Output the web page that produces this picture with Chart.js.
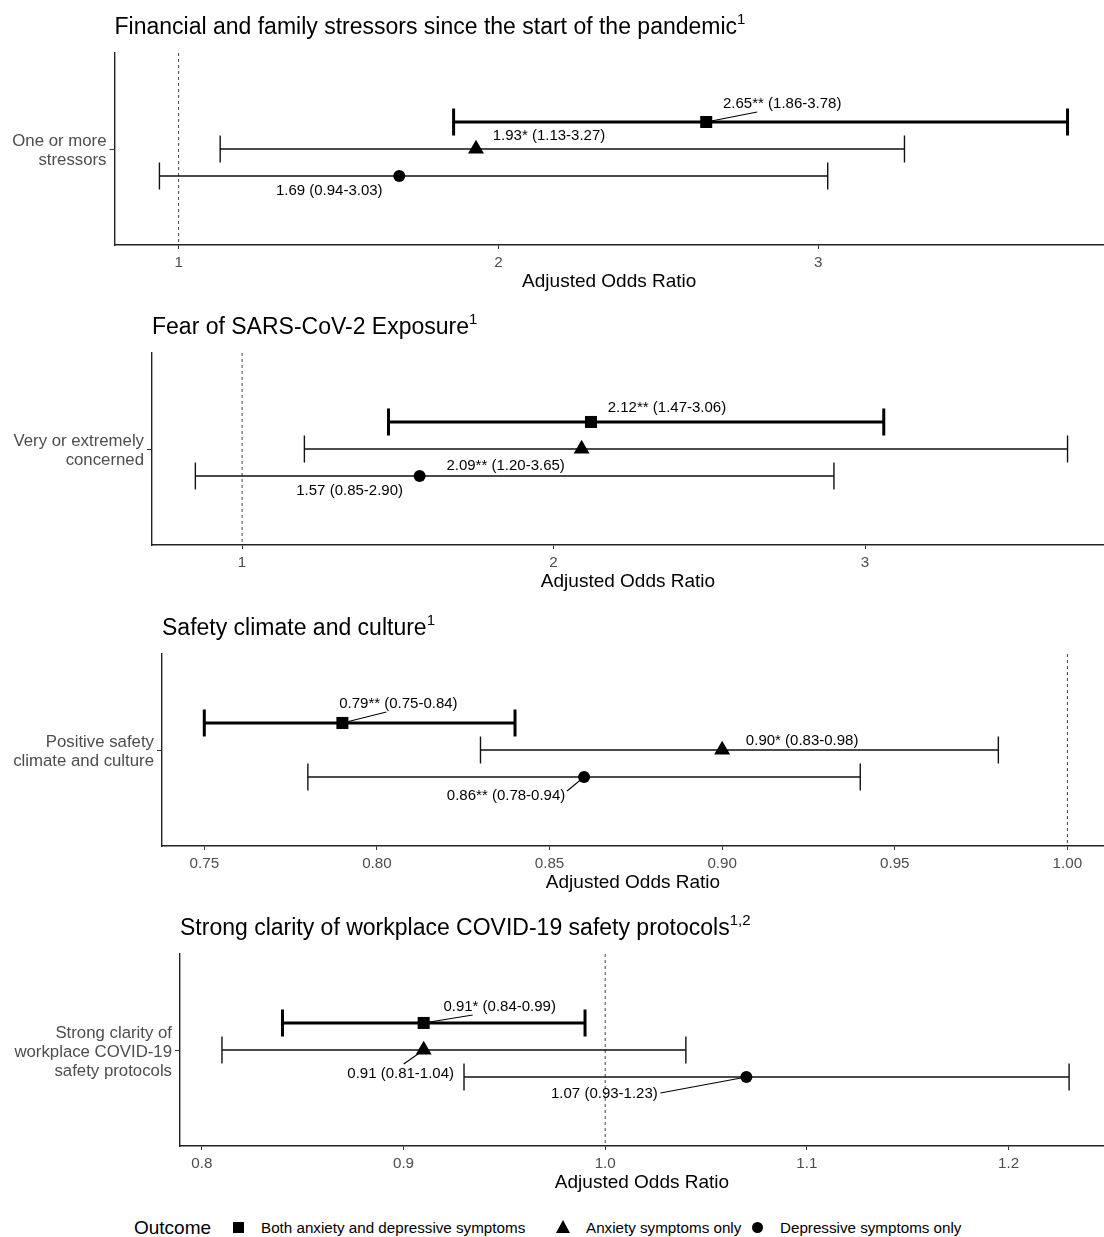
<!DOCTYPE html>
<html><head><meta charset="utf-8">
<script src="https://cdn.jsdelivr.net/npm/chart.js@4.4.1/dist/chart.umd.min.js"></script>
<style>
html,body{margin:0;padding:0;background:#fff;}
body{width:1104px;height:1237px;position:relative;overflow:hidden;font-family:"Liberation Sans",Arial,sans-serif;}
canvas{position:absolute;left:0;z-index:1;}
.txt{position:absolute;white-space:nowrap;z-index:2;color:#000;}
.txt .sup{position:relative;top:-10px;font-size:15px;}
.mk{position:absolute;z-index:2;}
</style>
</head><body>
<script>
// ---------------- DATA ----------------
const outcomes = ["Both anxiety and depressive symptoms", "Anxiety symptoms only", "Depressive symptoms only"];
const outcomeStyles = ["rect", "triangle", "circle"];
const legendTitle = "Outcome";
const axisTitle = "Adjusted Odds Ratio";

const panelTitles = [
  "Financial and family stressors since the start of the pandemic",
  "Fear of SARS-CoV-2 Exposure",
  "Safety climate and culture",
  "Strong clarity of workplace COVID-19 safety protocols"
];
const panelNotes = ["1", "1", "1", "1,2"];
const categoryLines = [
  ["One or more", "stressors"],
  ["Very or extremely", "concerned"],
  ["Positive safety", "climate and culture"],
  ["Strong clarity of", "workplace COVID-19", "safety protocols"]
];

// order: both, anxiety only, depressive only
const stressorsOR   = [2.65, 1.93, 1.69];
const stressorsLow  = [1.86, 1.13, 0.94];
const stressorsHigh = [3.78, 3.27, 3.03];
const stressorsSig  = ["**", "*", ""];

const fearOR   = [2.12, 2.09, 1.57];
const fearLow  = [1.47, 1.20, 0.85];
const fearHigh = [3.06, 3.65, 2.90];
const fearSig  = ["**", "**", ""];

const safetyOR   = [0.79, 0.90, 0.86];
const safetyLow  = [0.75, 0.83, 0.78];
const safetyHigh = [0.84, 0.98, 0.94];
const safetySig  = ["**", "*", "**"];

const clarityOR   = [0.91, 0.91, 1.07];
const clarityLow  = [0.84, 0.81, 0.93];
const clarityHigh = [0.99, 1.04, 1.23];
const claritySig  = ["*", "", ""];

const stressorsTicks = [1, 2, 3];
const stressorsTickLabels = ["1", "2", "3"];
const fearTicks = [1, 2, 3];
const fearTickLabels = ["1", "2", "3"];
const safetyTicks = [0.75, 0.80, 0.85, 0.90, 0.95, 1.00];
const safetyTickLabels = ["0.75", "0.80", "0.85", "0.90", "0.95", "1.00"];
const clarityTicks = [0.8, 0.9, 1.0, 1.1, 1.2];
const clarityTickLabels = ["0.8", "0.9", "1.0", "1.1", "1.2"];

const referenceValue = 1;

// ---------------- LAYOUT / STYLE ----------------
const FONT = '"Liberation Sans", Arial, sans-serif';
const dodge = [1, 0, -1];          // vertical dodge of the three outcomes
const pointSizes = [8.5, 9.2, 6];
const Y_HALF = 3.55;
const PLOT_H = 192;
const TOP_PAD = 40;
const CANVAS_H = 300;
const X_H = 48.4;

// label offsets (px) relative to marker: [dx, dy, leaderDx, leaderDy] (leader null if none)
const panels = [
  {or: stressorsOR, low: stressorsLow, high: stressorsHigh, sig: stressorsSig,
   ticks: stressorsTicks, tickLabels: stressorsTickLabels,
   plotLeft: 114.5, plotTop: 53, xMin: 0.7995, xMax: 3.894, titleBase: 34.5,
   lab: [[76, -18, 51, -10], [73, -13, null, null], [-70, 15, null, null]]},
  {or: fearOR, low: fearLow, high: fearHigh, sig: fearSig,
   ticks: fearTicks, tickLabels: fearTickLabels,
   plotLeft: 152, plotTop: 353, xMin: 0.7108, xMax: 3.767, titleBase: 334.3,
   lab: [[76, -14, null, null], [-76, 17, null, null], [-70, 15, null, null]]},
  {or: safetyOR, low: safetyLow, high: safetyHigh, sig: safetySig,
   ticks: safetyTicks, tickLabels: safetyTickLabels,
   plotLeft: 162, plotTop: 654, xMin: 0.73775, xMax: 1.0106, titleBase: 635,
   lab: [[56, -19, 44, -11], [80, -9, null, null], [-78, 19, -17, 14]]},
  {or: clarityOR, low: clarityLow, high: clarityHigh, sig: claritySig,
   ticks: clarityTicks, tickLabels: clarityTickLabels,
   plotLeft: 180, plotTop: 954, xMin: 0.78919, xMax: 1.2473, titleBase: 935,
   lab: [[76, -16, 49, -8], [-23, 24, -20, 14], [-142, 17, -86, 16]]}
];

function addText(html, left, baseline, size, color) {
  const d = document.createElement('div');
  d.className = 'txt';
  d.style.fontSize = size + 'px';
  d.style.lineHeight = size + 'px';
  d.style.left = left + 'px';
  d.style.top = (baseline - size * 0.8465) + 'px';
  if (color) d.style.color = color;
  d.innerHTML = html;
  document.body.appendChild(d);
  return d;
}

const forestPlugin = {
  id: 'forest',
  beforeDatasetsDraw(chart) {
    const p = chart.options.plugins.forest.panel;
    const {ctx, chartArea, scales: {x, y}} = chart;
    ctx.save();
    const rx = x.getPixelForValue(referenceValue);
    ctx.setLineDash([3, 3]);
    ctx.strokeStyle = '#444';
    ctx.lineWidth = 1;
    ctx.beginPath();
    ctx.moveTo(rx, chartArea.top);
    ctx.lineTo(rx, chartArea.bottom);
    ctx.stroke();
    ctx.setLineDash([]);
    const capHalf = Math.abs(y.getPixelForValue(0.5) - y.getPixelForValue(0));
    p.low.forEach((lo, i) => {
      const yy = y.getPixelForValue(dodge[i]);
      const x1 = x.getPixelForValue(lo);
      const x2 = x.getPixelForValue(p.high[i]);
      ctx.strokeStyle = i === 0 ? '#000' : '#111';
      ctx.lineWidth = i === 0 ? 3 : 1.4;
      ctx.beginPath();
      ctx.moveTo(x1, yy); ctx.lineTo(x2, yy);
      ctx.moveTo(x1, yy - capHalf); ctx.lineTo(x1, yy + capHalf);
      ctx.moveTo(x2, yy - capHalf); ctx.lineTo(x2, yy + capHalf);
      ctx.stroke();
    });
    ctx.restore();
  },
  afterDatasetsDraw(chart) {
    const p = chart.options.plugins.forest.panel;
    const {ctx, scales: {x, y}} = chart;
    ctx.save();
    ctx.font = '15px ' + FONT;
    ctx.fillStyle = '#000';
    ctx.strokeStyle = '#000';
    ctx.lineWidth = 1.1;
    ctx.textAlign = 'center';
    ctx.textBaseline = 'middle';
    p.or.forEach((v, i) => {
      const px = x.getPixelForValue(v);
      const py = y.getPixelForValue(dodge[i]);
      const [dx, dy, lx, ly] = p.lab[i];
      if (lx !== null) {
        ctx.beginPath();
        ctx.moveTo(px, py);
        ctx.lineTo(px + lx, py + ly);
        ctx.stroke();
      }
      const text = v.toFixed(2) + p.sig[i] + ' (' + p.low[i].toFixed(2) + '-' + p.high[i].toFixed(2) + ')';
      ctx.fillText(text, px + dx, py + dy);
    });
    ctx.restore();
  }
};

panels.forEach((p, k) => {
  const canvasTop = p.plotTop - TOP_PAD;
  const cv = document.createElement('canvas');
  cv.width = 1104; cv.height = CANVAS_H;
  cv.style.width = '1104px'; cv.style.height = CANVAS_H + 'px';
  cv.style.top = canvasTop + 'px';
  document.body.appendChild(cv);

  addText(panelTitles[k] + '<span class="sup">' + panelNotes[k] + '</span>', p.plotLeft, p.titleBase, 23, '#000');

  const datasets = outcomes.map((name, i) => ({
    label: name,
    data: [{x: p.or[i], y: dodge[i]}],
    pointStyle: outcomeStyles[i],
    pointRadius: pointSizes[i],
    pointHoverRadius: 0,
    pointBackgroundColor: '#000',
    pointBorderColor: '#000',
    pointBorderWidth: 0,
    showLine: false
  }));

  new Chart(cv, {
    type: 'scatter',
    data: {datasets},
    plugins: [forestPlugin],
    options: {
      responsive: false,
      animation: false,
      devicePixelRatio: 1,
      events: [],
      layout: {autoPadding: false, padding: {top: TOP_PAD, left: 0, right: 0, bottom: CANVAS_H - TOP_PAD - PLOT_H - X_H}},
      plugins: {legend: {display: false}, tooltip: {enabled: false}, forest: {panel: p}},
      scales: {
        x: {
          type: 'linear', min: p.xMin, max: p.xMax,
          afterBuildTicks: s => { s.ticks = p.ticks.map(v => ({value: v})); },
          afterFit: s => { s.height = X_H; s.paddingLeft = 0; s.paddingRight = 0; },
          grid: {drawOnChartArea: false, drawTicks: true, tickLength: 4, color: '#333', lineWidth: 1},
          border: {display: true, color: '#222', width: 1.4},
          ticks: {color: '#4d4d4d', font: {family: FONT, size: 15.2}, padding: 5, autoSkip: false, maxRotation: 0,
                  callback: (v, i) => p.tickLabels[i]},
          title: {display: true, text: axisTitle, color: '#000', font: {family: FONT, size: 19}, padding: 0}
        },
        y: {
          type: 'linear', min: -Y_HALF, max: Y_HALF,
          afterBuildTicks: s => { s.ticks = [{value: 0}]; },
          afterFit: s => { s.width = p.plotLeft; s.paddingTop = 0; s.paddingBottom = 0; },
          grid: {drawOnChartArea: false, drawTicks: true, tickLength: 5, color: '#333', lineWidth: 1},
          border: {display: true, color: '#222', width: 1.4},
          ticks: {color: '#4d4d4d', font: {family: FONT, size: 16.8, lineHeight: 1.13}, padding: 3, autoSkip: false,
                  labelOffset: 2, callback: () => categoryLines[k]}
        }
      }
    }
  });
});

// ---------------- LEGEND ----------------
addText(legendTitle, 134, 1234, 19, '#000');
const legendX = [[238, 261], [563, 586], [757, 780]];
outcomes.forEach((name, i) => {
  const [cx, tx] = legendX[i];
  const m = document.createElement('div');
  m.className = 'mk';
  if (i === 0) {
    Object.assign(m.style, {left: (cx - 5.5) + 'px', top: (1227 - 5.5) + 'px', width: '11px', height: '11px', background: '#000'});
  } else if (i === 1) {
    Object.assign(m.style, {left: (cx - 7.5) + 'px', top: (1227 - 7) + 'px', width: 0, height: 0,
      borderLeft: '7.5px solid transparent', borderRight: '7.5px solid transparent', borderBottom: '13px solid #000'});
  } else {
    Object.assign(m.style, {left: (cx - 5.5) + 'px', top: (1227 - 5.5) + 'px', width: '11px', height: '11px', background: '#000', borderRadius: '50%'});
  }
  document.body.appendChild(m);
  addText(name, tx, 1232.5, 15.2, '#000');
});
</script>
</body></html>
